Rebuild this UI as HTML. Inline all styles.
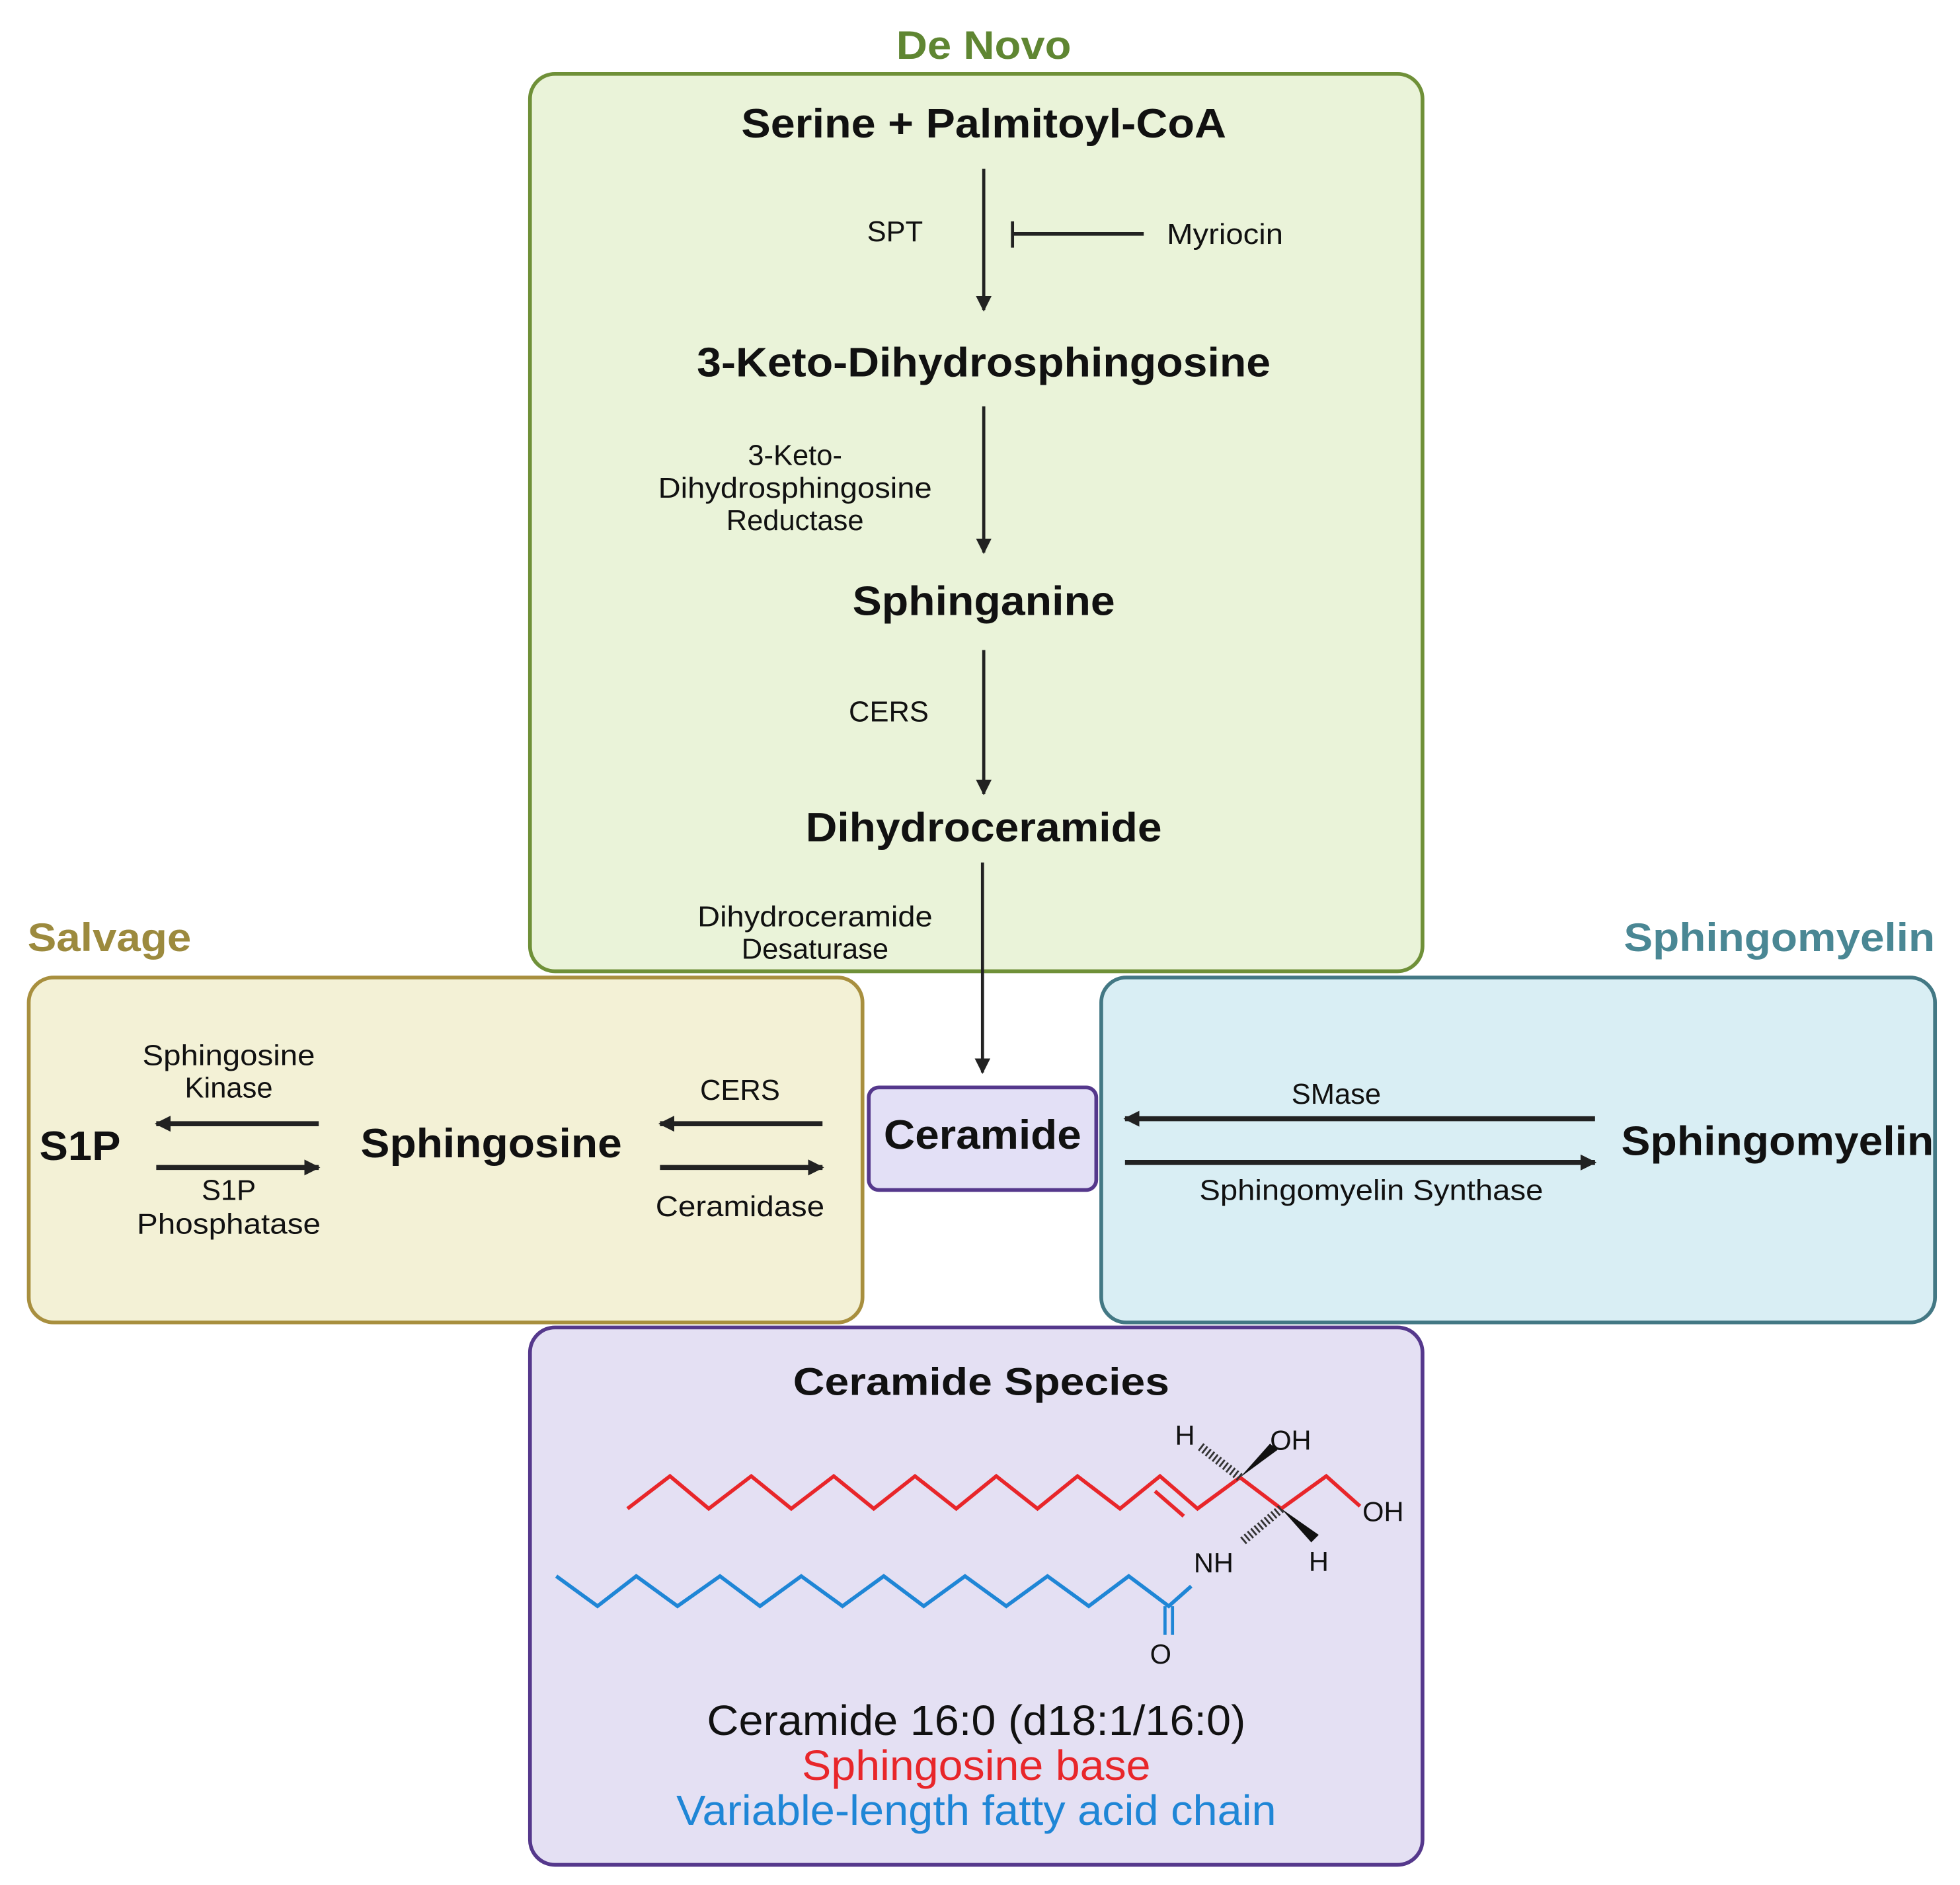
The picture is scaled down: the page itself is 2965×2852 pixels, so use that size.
<!DOCTYPE html>
<html><head><meta charset="utf-8"><style>html,body{margin:0;padding:0;background:#fff}svg{display:block}</style></head>
<body>
<svg width="2965" height="2852" viewBox="0 0 1568 1508" xmlns="http://www.w3.org/2000/svg" font-family="'Liberation Sans', sans-serif">
<defs>
<marker id="ah" viewBox="0 0 10 10" refX="9" refY="5" markerWidth="5" markerHeight="5" markerUnits="strokeWidth" orient="auto"><path d="M0,0 L10,5 L0,10 z" fill="#222"/></marker>
<marker id="ah2" viewBox="0 0 10 10" refX="9" refY="5" markerWidth="3.2" markerHeight="4" markerUnits="strokeWidth" orient="auto"><path d="M0,0 L10,5 L0,10 z" fill="#222"/></marker>
</defs>
<!-- boxes -->
<rect x="424" y="59" width="714" height="718" rx="20" fill="#eaf3d9" stroke="#6f9038" stroke-width="3"/>
<rect x="23" y="782" width="667" height="276" rx="20" fill="#f3f1d6" stroke="#a88f3e" stroke-width="3"/>
<rect x="881" y="782" width="667" height="276" rx="20" fill="#d9eef4" stroke="#437884" stroke-width="3"/>
<rect x="695" y="870" width="182" height="82" rx="8" fill="#e3e0f6" stroke="#55388c" stroke-width="3"/>
<rect x="424" y="1062" width="714" height="430" rx="20" fill="#e4e0f3" stroke="#55388c" stroke-width="3"/>
<!-- section titles -->
<text x="787" y="47" text-anchor="middle" font-weight="bold" font-size="32" fill="#5f8632" textLength="140" lengthAdjust="spacingAndGlyphs">De Novo</text>
<text x="22" y="761" font-weight="bold" font-size="32" fill="#9c8a3e" textLength="131" lengthAdjust="spacingAndGlyphs">Salvage</text>
<text x="1548" y="761" text-anchor="end" font-weight="bold" font-size="32" fill="#4a8794" textLength="249" lengthAdjust="spacingAndGlyphs">Sphingomyelin</text>
<!-- de novo -->
<g font-weight="bold" font-size="33" fill="#111" text-anchor="middle">
<text x="787" y="110" textLength="388" lengthAdjust="spacingAndGlyphs">Serine + Palmitoyl-CoA</text>
<text x="787" y="301" textLength="459" lengthAdjust="spacingAndGlyphs">3-Keto-Dihydrosphingosine</text>
<text x="787" y="492" textLength="210" lengthAdjust="spacingAndGlyphs">Sphinganine</text>
<text x="787" y="673" textLength="285" lengthAdjust="spacingAndGlyphs">Dihydroceramide</text>
<text x="786" y="919" textLength="158" lengthAdjust="spacingAndGlyphs">Ceramide</text>
<text x="393" y="926" textLength="209" lengthAdjust="spacingAndGlyphs">Sphingosine</text>
<text x="64" y="928" textLength="65" lengthAdjust="spacingAndGlyphs">S1P</text>
<text x="1422" y="924" textLength="250" lengthAdjust="spacingAndGlyphs">Sphingomyelin</text>
<text x="785" y="1116" font-size="31" textLength="301" lengthAdjust="spacingAndGlyphs">Ceramide Species</text>
</g>
<g font-size="23" fill="#111" text-anchor="middle">
<text x="716" y="193">SPT</text>
<text x="980" y="195" textLength="93" lengthAdjust="spacingAndGlyphs">Myriocin</text>
<text x="636" y="372">3-Keto-</text>
<text x="636" y="398" textLength="219" lengthAdjust="spacingAndGlyphs">Dihydrosphingosine</text>
<text x="636" y="424">Reductase</text>
<text x="711" y="577">CERS</text>
<text x="652" y="741" textLength="188" lengthAdjust="spacingAndGlyphs">Dihydroceramide</text>
<text x="652" y="767">Desaturase</text>
<text x="183" y="852" textLength="138" lengthAdjust="spacingAndGlyphs">Sphingosine</text>
<text x="183" y="878">Kinase</text>
<text x="183" y="960">S1P</text>
<text x="183" y="987" textLength="147" lengthAdjust="spacingAndGlyphs">Phosphatase</text>
<text x="592" y="880">CERS</text>
<text x="592" y="973" textLength="135" lengthAdjust="spacingAndGlyphs">Ceramidase</text>
<text x="1069" y="883">SMase</text>
<text x="1097" y="960" textLength="275" lengthAdjust="spacingAndGlyphs">Sphingomyelin Synthase</text>
</g>
<!-- vertical arrows -->
<g stroke="#222" stroke-width="2.5" fill="none">
<line x1="787" y1="135" x2="787" y2="248" marker-end="url(#ah)"/>
<line x1="787" y1="325" x2="787" y2="442" marker-end="url(#ah)"/>
<line x1="787" y1="520" x2="787" y2="635" marker-end="url(#ah)"/>
<line x1="786" y1="690" x2="786" y2="858" marker-end="url(#ah)"/>
<line x1="810" y1="187" x2="915" y2="187" stroke-width="3"/>
<line x1="810" y1="177" x2="810" y2="198" stroke-width="2.5"/>
</g>
<!-- horizontal arrows -->
<g stroke="#222" stroke-width="4" fill="none">
<line x1="255" y1="899" x2="125" y2="899" marker-end="url(#ah2)"/>
<line x1="125" y1="934" x2="255" y2="934" marker-end="url(#ah2)"/>
<line x1="658" y1="899" x2="528" y2="899" marker-end="url(#ah2)"/>
<line x1="528" y1="934" x2="658" y2="934" marker-end="url(#ah2)"/>
<line x1="1276" y1="895" x2="900" y2="895" marker-end="url(#ah2)"/>
<line x1="900" y1="930" x2="1276" y2="930" marker-end="url(#ah2)"/>
</g>
<!-- chemistry -->
<polyline fill="none" stroke="#e8262a" stroke-width="3" stroke-linejoin="miter" points="502,1207 536,1181 567,1207 601,1181 633,1207 667,1181 699,1207 732,1181 765,1207 797,1181 830,1207 862,1181 896,1207 928,1181 958,1207 992,1182 1025,1207 1061,1181 1088,1205"/>
<line x1="924" y1="1193" x2="947" y2="1213" stroke="#e8262a" stroke-width="3"/>
<polyline fill="none" stroke="#1f86d6" stroke-width="3" points="445,1261 478,1285 509,1261 542,1285 576,1261 608,1285 641,1261 674,1285 707,1261 739,1285 772,1261 805,1285 838,1261 871,1285 903,1261 935,1285 953,1269"/>
<line x1="932" y1="1285" x2="932" y2="1308" stroke="#1f86d6" stroke-width="2.5"/>
<line x1="938" y1="1285" x2="938" y2="1308" stroke="#1f86d6" stroke-width="2.5"/>
<!-- wedges -->
<polygon points="992,1182 1016,1155 1022,1160" fill="#111"/>
<polygon points="1025,1207 1049,1234 1055,1228" fill="#111"/>
<line x1="992" y1="1182" x2="960" y2="1157" stroke="#333" stroke-width="7" stroke-dasharray="1.5 2"/>
<line x1="1025" y1="1207" x2="993" y2="1234" stroke="#333" stroke-width="7" stroke-dasharray="1.5 2"/>
<g font-size="22" fill="#111">
<text x="940" y="1156">H</text>
<text x="1016" y="1160">OH</text>
<text x="1090" y="1217">OH</text>
<text x="955" y="1258">NH</text>
<text x="1047" y="1257">H</text>
<text x="920" y="1331">O</text>
</g>
<g font-size="34" text-anchor="middle">
<text x="781" y="1388" fill="#111" textLength="431" lengthAdjust="spacingAndGlyphs">Ceramide 16:0 (d18:1/16:0)</text>
<text x="781" y="1424" fill="#e8262a" textLength="279" lengthAdjust="spacingAndGlyphs">Sphingosine base</text>
<text x="781" y="1460" fill="#1f86d6" textLength="480" lengthAdjust="spacingAndGlyphs">Variable-length fatty acid chain</text>
</g>
</svg>
</body></html>
